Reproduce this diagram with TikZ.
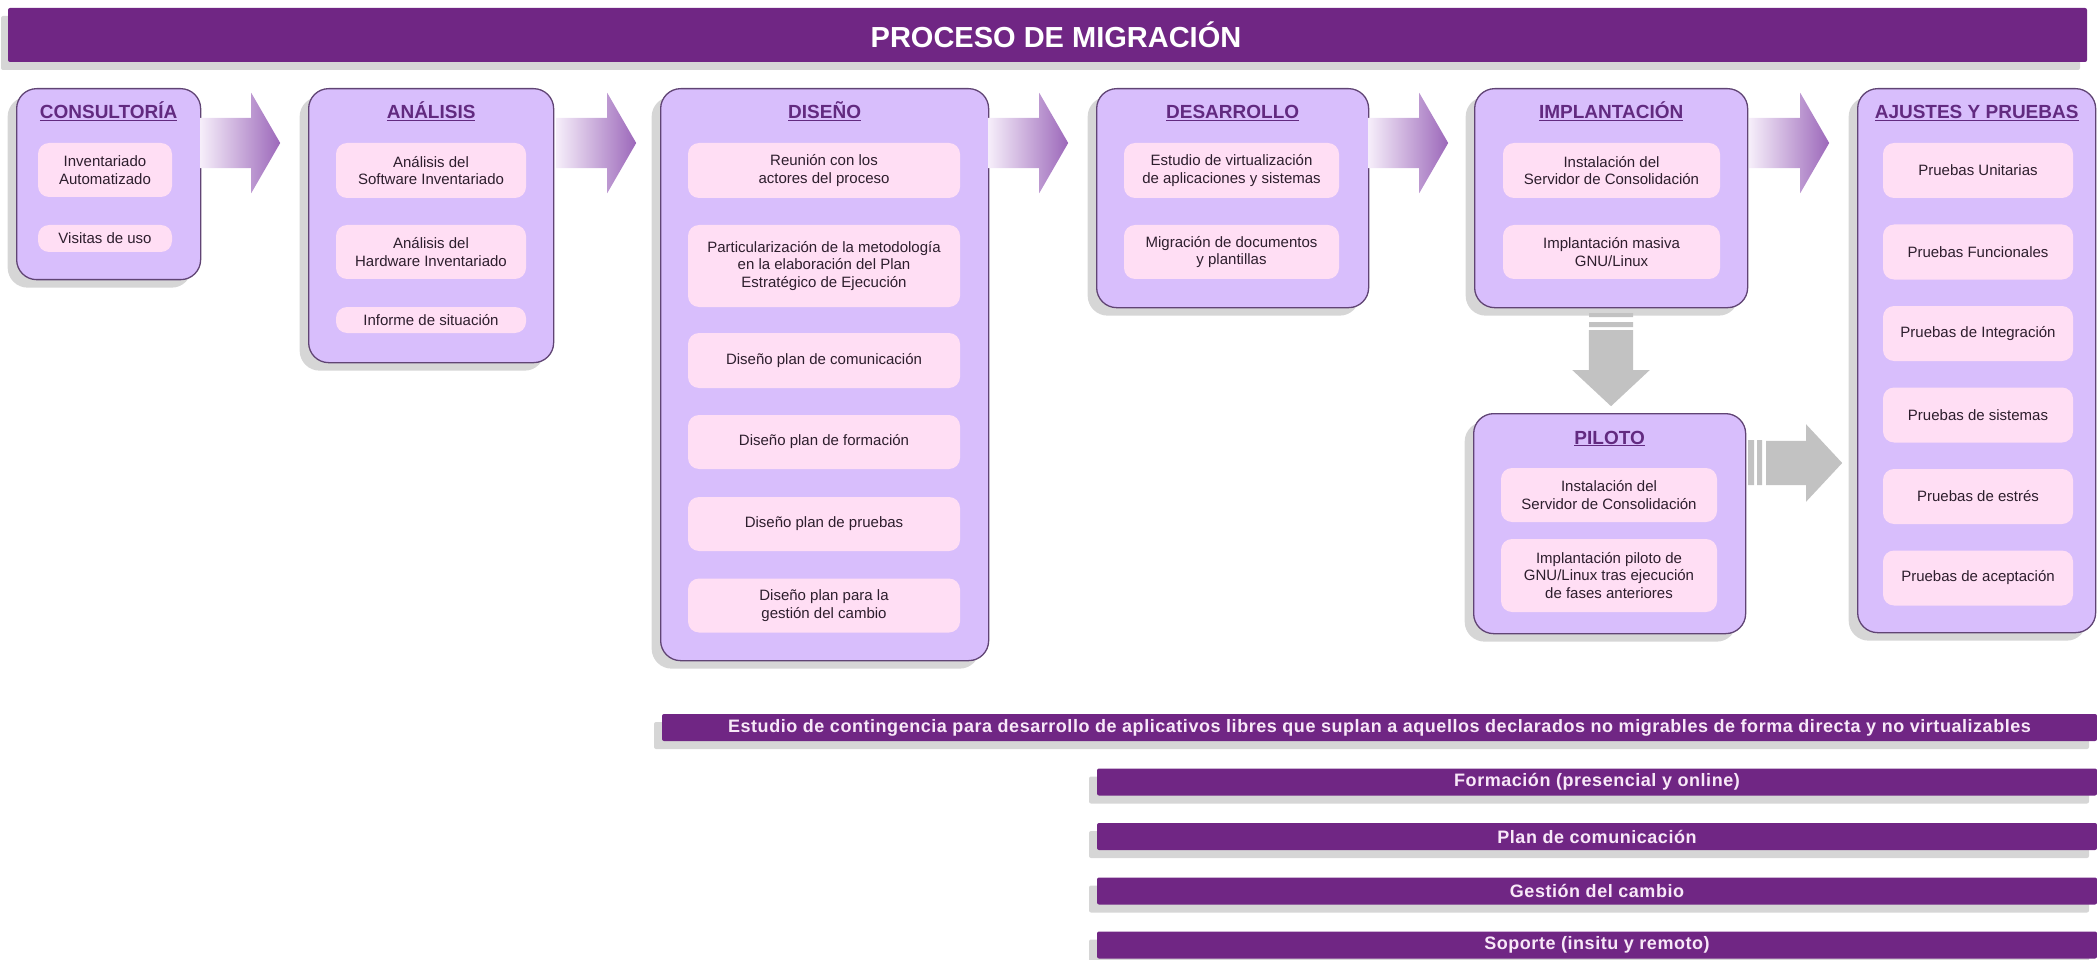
\documentclass[tikz,border=0pt]{standalone}
\usepackage{fontspec}
\setmainfont{Liberation Sans}
\usetikzlibrary{shapes.arrows,shadows,positioning}

\definecolor{morado}{RGB}{112,38,132}
\definecolor{lila}{RGB}{216,190,252}
\definecolor{borde}{RGB}{96,68,116}
\definecolor{rosa}{RGB}{255,222,244}
\definecolor{cabecera}{RGB}{98,42,128}
\definecolor{texto}{RGB}{45,30,45}
\definecolor{flechaclara}{RGB}{246,238,250}
\definecolor{flechamorada}{RGB}{156,104,186}
\definecolor{gris}{RGB}{194,194,194}
\definecolor{sombra}{RGB}{214,214,214}
\definecolor{letrabarra}{RGB}{248,232,248}

\tikzset{
  fase/.style={draw=borde, line width=1.3pt, fill=lila, rounded corners=20pt,
    anchor=north west, inner sep=0pt,
    drop shadow={shadow xshift=-9pt, shadow yshift=-8pt, fill=sombra, opacity=1}},
  cabeza/.style={anchor=base, text=cabecera, font=\fontsize{19}{23}\selectfont\bfseries},
  tarea/.style={fill=rosa, rounded corners=11pt, text=texto, align=center,
    inner sep=0pt, font=\fontsize{15}{17.5}\selectfont},
  flecha/.style={single arrow, draw=none, anchor=tail, inner xsep=0pt, inner ysep=25pt,
    single arrow head extend=25pt, single arrow tip angle=120,
    minimum width=100pt, minimum height=80pt,
    left color=flechaclara, right color=flechamorada},
  flechagris/.style={single arrow, draw=none, fill=gris, anchor=tail, inner xsep=0pt, inner ysep=22pt,
    single arrow head extend=16.5pt, single arrow tip angle=94,
    minimum width=77pt, minimum height=76pt},
  barra/.style={fill=morado, text=letrabarra, rounded corners=2pt, inner sep=0pt,
    minimum height=27pt,
    font=\fontsize{18}{20}\selectfont\bfseries\addfontfeature{LetterSpace=3},
    drop shadow={shadow xshift=-8pt, shadow yshift=-8pt, fill=sombra, opacity=1}},
}

\begin{document}
\begin{tikzpicture}[x=1pt,y=-1pt]
\useasboundingbox (0,0) rectangle (2097,960);

% titulo
\node[fill=morado, rounded corners=2pt, minimum width=2079pt, minimum height=54pt, inner sep=0pt,
  drop shadow={shadow xshift=-7pt, shadow yshift=-8pt, fill=sombra, opacity=1}]
  (titulo) at (1047.5,35) {};
\node[text=white, font=\fontsize{29}{32}\selectfont\bfseries] (ttitulo) at (1056,35) {PROCESO DE MIGRACIÓN};

% fases
\node[fase, minimum width=184pt, minimum height=191pt] (consultoria) at (16,88) {};
\node[cabeza] (tconsultoria) at ([yshift=-31pt]consultoria.north) {\underline{CONSULTORÍA}};
\node[tarea, minimum width=134pt, minimum height=54pt] (inventariado) at (105,170) {Inventariado\\Automatizado};
\node[tarea, minimum width=134pt, minimum height=27pt] (visitas) at (105,238.5) {Visitas de uso};

\node[fase, minimum width=245pt, minimum height=274pt] (analisis) at (308,88) {};
\node[cabeza] (tanalisis) at ([yshift=-31pt]analisis.north) {\underline{ANÁLISIS}};
\node[tarea, minimum width=190pt, minimum height=55pt] (software) at (431,170.5) {Análisis del\\Software Inventariado};
\node[tarea, minimum width=190pt, minimum height=54pt] (hardware) at (431,252) {Análisis del\\Hardware Inventariado};
\node[tarea, minimum width=190pt, minimum height=26pt] (informe) at (431,320) {Informe de situación};

\node[fase, minimum width=328pt, minimum height=572pt] (diseno) at (660,88) {};
\node[cabeza] (tdiseno) at ([yshift=-31pt]diseno.north) {\underline{DISEÑO}};
\node[tarea, minimum width=272pt, minimum height=55pt] (reunion) at (824,170.5) {Reunión con los\\actores del proceso};
\node[tarea, minimum width=272pt, minimum height=82pt] (metodologia) at (824,266) {Particularización de la metodología\\en la elaboración del Plan\\Estratégico de Ejecución};
\node[tarea, minimum width=272pt, minimum height=55pt] (comunicacion) at (824,360.5) {Diseño plan de comunicación};
\node[tarea, minimum width=272pt, minimum height=54pt] (formacion) at (824,442) {Diseño plan de formación};
\node[tarea, minimum width=272pt, minimum height=54pt] (pruebas) at (824,524) {Diseño plan de pruebas};
\node[tarea, minimum width=272pt, minimum height=54pt] (cambio) at (824,605.5) {Diseño plan para la\\gestión del cambio};

\node[fase, minimum width=272pt, minimum height=219pt] (desarrollo) at (1096,88) {};
\node[cabeza] (tdesarrollo) at ([yshift=-31pt]desarrollo.north) {\underline{DESARROLLO}};
\node[tarea, minimum width=215pt, minimum height=55pt] (virtualizacion) at (1231.5,170.5) {Estudio de virtualización\\de aplicaciones y sistemas};
\node[tarea, minimum width=215pt, minimum height=54pt] (documentos) at (1231.5,252) {Migración de documentos\\y plantillas};

\node[fase, minimum width=273pt, minimum height=219pt] (implantacion) at (1474,88) {};
\node[cabeza] (timplantacion) at ([yshift=-31pt]implantacion.north) {\underline{IMPLANTACIÓN}};
\node[tarea, minimum width=217pt, minimum height=55pt] (servidor) at (1611.5,170.5) {Instalación del\\Servidor de Consolidación};
\node[tarea, minimum width=217pt, minimum height=54pt] (masiva) at (1611.5,252) {Implantación masiva\\GNU/Linux};

\node[fase, minimum width=272pt, minimum height=220pt] (piloto) at (1473,413) {};
\node[cabeza] (tpiloto) at ([yshift=-31pt]piloto.north) {\underline{PILOTO}};
\node[tarea, minimum width=216pt, minimum height=54pt] (servidorp) at (1609,495) {Instalación del\\Servidor de Consolidación};
\node[tarea, minimum width=216pt, minimum height=73pt] (pilotolinux) at (1609,575.5) {Implantación piloto de\\GNU/Linux tras ejecución\\de fases anteriores};

\node[fase, minimum width=238pt, minimum height=544pt] (ajustes) at (1857,88) {};
\node[cabeza] (tajustes) at ([yshift=-31pt]ajustes.north) {\underline{AJUSTES Y PRUEBAS}};
\foreach \t [count=\i] in {Pruebas Unitarias, Pruebas Funcionales, Pruebas de Integración,
    Pruebas de sistemas, Pruebas de estrés, Pruebas de aceptación}
  \node[tarea, minimum width=190pt, minimum height=55pt] (prueba\i) at (1978,{170.5+81.5*(\i-1)}) {\t};

% flechas entre fases
\node[flecha] (f1) at (200,143) {};
\node[flecha] (f2) at (556,143) {};
\node[flecha] (f3) at (988,143) {};
\node[flecha] (f4) at (1368,143) {};
\node[flecha] (f5) at (1749,143) {};

% flechas grises
\node[flechagris, rotate=-90] (fbaja) at (1611,330) {};
\fill[gris] (1589,313) rectangle (1633,317) (1589,322) rectangle (1633,327);
\node[flechagris] (fpiloto) at (1766,463) {};
\fill[gris] (1748,440) rectangle (1754,485) (1757,440) rectangle (1762,485);

% barras
\node[barra, minimum width=1435pt] (contingencia) at (1379.5,727.5) {Estudio de contingencia para desarrollo de aplicativos libres que suplan a aquellos declarados no migrables de forma directa y no virtualizables};
\node[barra, minimum width=1000pt] (bformacion) at (1597,782) {Formación (presencial y online)};
\node[barra, minimum width=1000pt] (bcomunicacion) at (1597,836.5) {Plan de comunicación};
\node[barra, minimum width=1000pt] (bcambio) at (1597,891) {Gestión del cambio};
\node[barra, minimum width=1000pt] (bsoporte) at (1597,945) {Soporte (insitu y remoto)};
\end{tikzpicture}
\end{document}
